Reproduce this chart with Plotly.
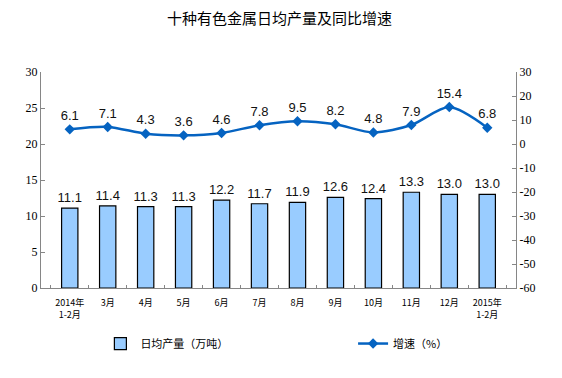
import plotly.graph_objects as go

categories = ["2014年<br>1-2月", "3月", "4月", "5月", "6月", "7月", "8月", "9月", "10月", "11月", "12月", "2015年<br>1-2月"]
output_values = [11.1, 11.4, 11.3, 11.3, 12.2, 11.7, 11.9, 12.6, 12.4, 13.3, 13.0, 13.0]
growth_values = [6.1, 7.1, 4.3, 3.6, 4.6, 7.8, 9.5, 8.2, 4.8, 7.9, 15.4, 6.8]
left_ticks = [0, 5, 10, 15, 20, 25, 30]
right_ticks = [-60, -50, -40, -30, -20, -10, 0, 10, 20, 30]
right_tick_labels = ["-60", "-50", "-40", "-30", "-20", "-10", "0", "10", "20", "30"]

fig = go.Figure()
fig.add_trace(go.Bar(
    x=categories, y=output_values, name="日均产量（万吨）",
    marker=dict(color="#99CCFF", line=dict(color="#000000", width=1.2)),
    width=0.43,
    text=[f"{v:.1f}" for v in output_values], textposition="outside",
    constraintext="none",
    textfont=dict(family="Liberation Sans, Arial", size=13, color="#111111"),
    cliponaxis=False, yaxis="y", legend="legend",
))
fig.add_trace(go.Scatter(
    x=categories, y=growth_values, name="增速（%）",
    mode="lines+markers+text", line=dict(color="#0563C1", width=2.5, shape="spline", smoothing=0.8),
    marker=dict(symbol="diamond", size=8, color="#0563C1"),
    text=[f"{v:.1f}" for v in growth_values], textposition="top center",
    textfont=dict(family="Liberation Sans, Arial", size=13, color="#111111"),
    cliponaxis=False, yaxis="y2", legend="legend2",
))

legend_font = dict(family="Noto Sans CJK SC", size=11, color="#000000")
fig.update_layout(
    width=554, height=370,
    margin=dict(l=33, r=46, t=64, b=90),
    paper_bgcolor="white", plot_bgcolor="white",
    title=dict(text="十种有色金属日均产量及同比增速", x=0.49, xanchor="center", y=0.972, yanchor="middle",
               font=dict(family="Noto Sans CJK SC", size=15, color="#000000")),
    showlegend=True,
    legend=dict(orientation="h", x=0.125, xanchor="left", y=-0.19, yanchor="top",
                font=legend_font, itemwidth=30),
    legend2=dict(orientation="h", x=0.657, xanchor="left", y=-0.19, yanchor="top",
                 font=legend_font, itemwidth=30),
    xaxis=dict(
        tickfont=dict(family="Noto Sans CJK SC", size=9, color="#000000"),
        tickangle=0, ticklabelstandoff=6,
        showline=True, linecolor="#868686", linewidth=1,
        tickson="boundaries", ticks="inside", ticklen=3, tickcolor="#868686",
        showgrid=False, fixedrange=True,
    ),
    yaxis=dict(
        range=[0, 30], tickvals=left_ticks, showgrid=False,
        showline=True, linecolor="#868686", linewidth=1,
        ticks="inside", ticklen=4, tickcolor="#868686",
        tickfont=dict(family="Liberation Serif, Times New Roman", size=12, color="#000000"),
        zeroline=False,
    ),
    yaxis2=dict(
        range=[-60, 30], tickvals=right_ticks, ticktext=right_tick_labels,
        overlaying="y", side="right", showgrid=False,
        showline=True, linecolor="#868686", linewidth=1,
        ticks="inside", ticklen=4, tickcolor="#868686",
        tickfont=dict(family="Liberation Serif, Times New Roman", size=12, color="#000000"),
        zeroline=False,
    ),
)

fig.write_html("out.html")
